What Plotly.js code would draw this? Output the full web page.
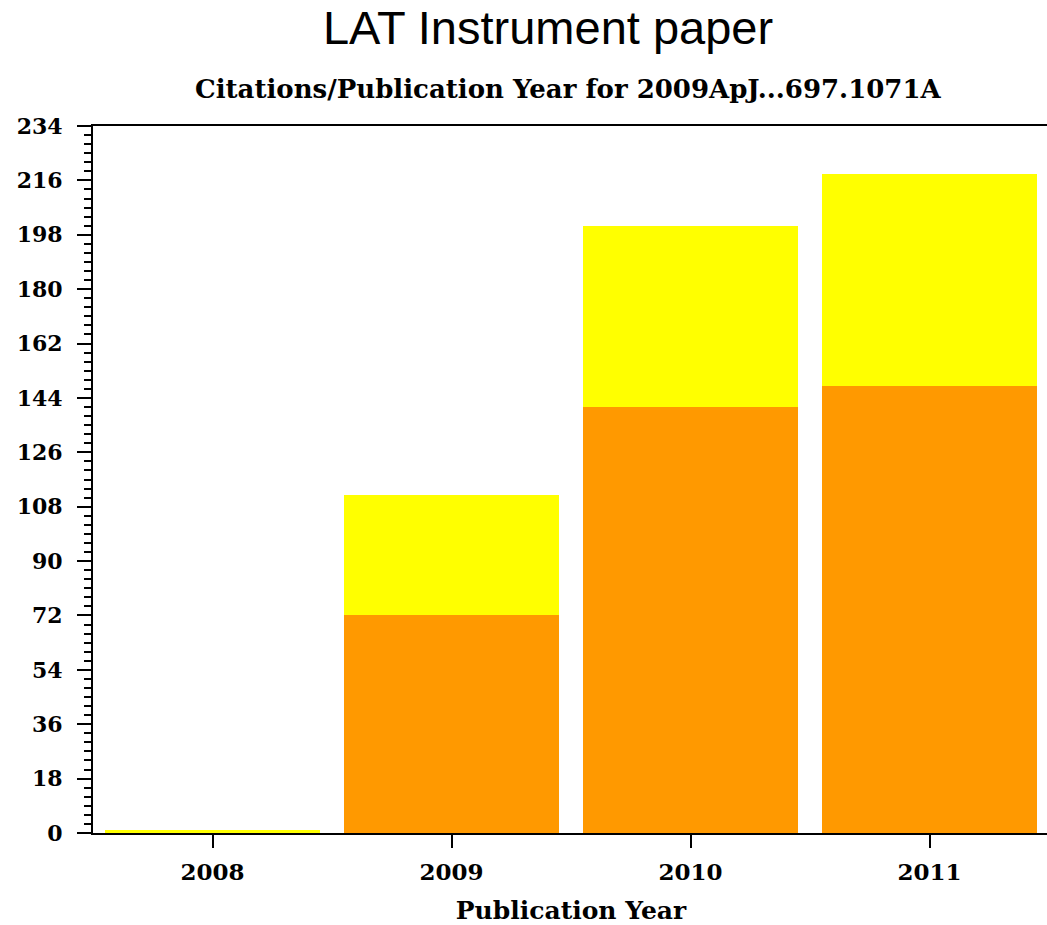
<!DOCTYPE html>
<html>
<head>
<meta charset="utf-8">
<script src="https://cdn.plot.ly/plotly-3.0.1.min.js"></script>
<style>
html,body{margin:0;padding:0;overflow:hidden;background:#fff;}
#chart{width:1049px;height:925px;}
</style>
</head>
<body>
<div id="chart"></div>
<script>
const years = ["2008", "2009", "2010", "2011"];
const refereed = [0, 72, 141, 148];      // orange part
const nonRefereed = [1, 40, 60, 70];     // yellow part on top
const yTickVals = [0, 18, 36, 54, 72, 90, 108, 126, 144, 162, 180, 198, 216, 234];

const tickFont = {family: "DejaVu Serif", size: 22, color: "#000", weight: "bold"};
const xTickFont = {family: "DejaVu Serif", size: 23, color: "#000", weight: "bold"};
const axisTitleFont = {family: "DejaVu Serif", size: 25, color: "#000", weight: "bold"};

const traces = [
  {type: "bar", x: years, y: refereed, marker: {color: "#FF9900", line: {width: 0}}, hoverinfo: "x+y", showlegend: false},
  {type: "bar", x: years, y: nonRefereed, marker: {color: "#FFFF00", line: {width: 0}}, hoverinfo: "x+y", showlegend: false}
];

const layout = {
  width: 1049, height: 925,
  margin: {l: 93, r: 0, t: 126, b: 92},
  paper_bgcolor: "#fff", plot_bgcolor: "#fff",
  barmode: "stack", bargap: 0.1,
  title: {text: "LAT Instrument paper", font: {family: "Liberation Sans", size: 47, color: "#000"},
          x: 548 / 1049, xref: "container", xanchor: "center", y: 1 - 28 / 925, yref: "container", yanchor: "middle"},
  xaxis: {
    type: "category", range: [-0.5, 3.5], fixedrange: true,
    showline: true, linecolor: "#000", linewidth: 2, mirror: true,
    ticks: "outside", ticklen: 13, tickwidth: 2, tickcolor: "#000",
    tickfont: xTickFont, showgrid: false, zeroline: false, ticklabelstandoff: 4,
    title: {text: "Publication Year", font: axisTitleFont, standoff: 18}
  },
  yaxis: {
    range: [0, 234], tickmode: "array", tickvals: yTickVals, ticktext: yTickVals.map(String),
    showline: true, linecolor: "#000", linewidth: 2,
    ticks: "outside", ticklen: 14, tickwidth: 2, tickcolor: "#000",
    minor: {tickmode: "linear", tick0: 0, dtick: 3, ticks: "outside", ticklen: 7, tickwidth: 2, tickcolor: "#000", showgrid: false},
    tickfont: tickFont, showgrid: false, zeroline: false, ticklabelstandoff: 10
  },
  annotations: [{
    text: "Citations/Publication Year for 2009ApJ...697.1071A",
    xref: "paper", yref: "paper", x: (568 - 93) / 956, y: 1 + (126 - 89) / 707,
    xanchor: "center", yanchor: "middle", showarrow: false,
    font: {family: "DejaVu Serif", size: 26, color: "#000", weight: "bold"}
  }]
};

Plotly.newPlot("chart", traces, layout, {displayModeBar: false, staticPlot: true});
</script>
</body>
</html>
